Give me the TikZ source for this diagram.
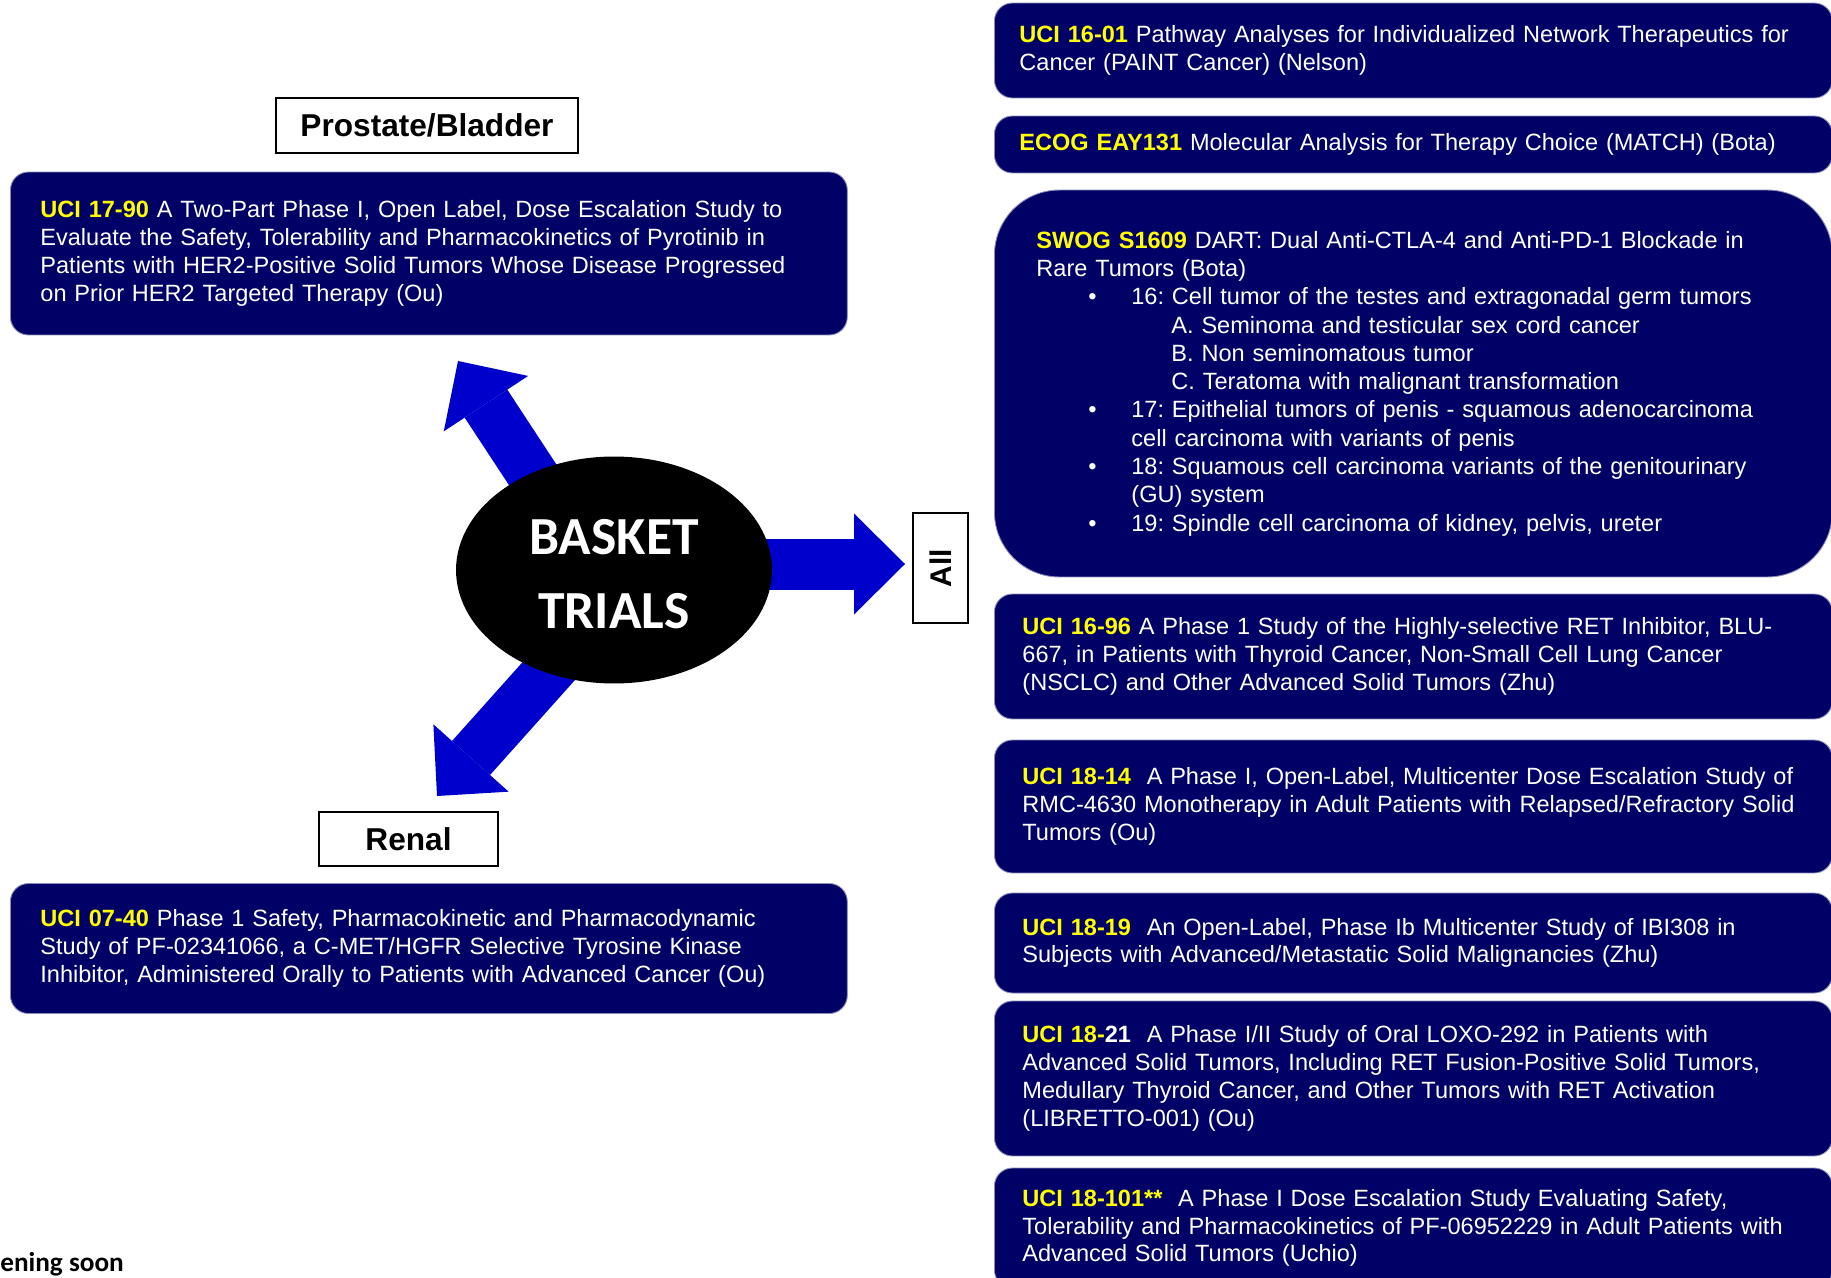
\documentclass[tikz,border=0pt]{standalone}
\usepackage{fontspec}
\setmainfont{Liberation Sans}
\newfontfamily\bannerfont{Carlito}
\usepackage{xcolor}
\usetikzlibrary{arrows.meta,positioning,shapes.geometric,backgrounds}
\definecolor{TrialNavy}{HTML}{000066}
\definecolor{TrialYellow}{HTML}{FFFF00}
\definecolor{ArrowBlue}{HTML}{0000CC}
\tikzset{
  trialbox/.style={fill=TrialNavy, draw=TrialNavy!45!white, line width=0.5pt,
    rounded corners=0.36cm, text=white, align=left, anchor=west,
    font=\fontsize{13.4}{15.8}\selectfont, inner xsep=0.56cm, text width=15.64cm},
  tagbox/.style={draw, line width=1pt, fill=white, inner sep=0pt,
    font=\bfseries\fontsize{18}{21}\selectfont},
  bigarrow/.style={draw=ArrowBlue, line width=1.02cm,
    -{Triangle[length=1.02cm, width=2.02cm, line width=0pt]}}
}
\newcommand{\trialid}[1]{\textcolor{TrialYellow}{\textbf{#1}}}
\newcommand{\tumoritem}[1]{\hspace*{1.04cm}\makebox[0.86cm][l]{\textbullet}#1}
\frenchspacing

\begin{document}
\begin{tikzpicture}[x=0.02cm, y=-0.02cm,
  leftbox/.style={trialbox, inner xsep=0.6cm, text width=15.54cm}
]
\useasboundingbox (0,0) rectangle (1831,1277);
\clip (0,0) rectangle (1831,1277);

% left column
\node[tagbox, minimum width=6.04cm, minimum height=1.1cm] (prostate) at (427,125.5) {Prostate/Bladder};
\node[leftbox, minimum height=3.26cm] (uci1790) at (10,253.5)
  {\trialid{UCI 17-90} A Two-Part Phase I, Open Label, Dose Escalation Study to\\
   Evaluate the Safety, Tolerability and Pharmacokinetics of Pyrotinib in\\
   Patients with HER2-Positive Solid Tumors Whose Disease Progressed\\
   on Prior HER2 Targeted Therapy (Ou)};
\node[tagbox, minimum width=3.58cm, minimum height=1.08cm] (renal) at (408.5,839) {Renal};
\node[leftbox, minimum height=2.6cm] (uci0740) at (10,948.5)
  {\trialid{UCI 07-40} Phase 1 Safety, Pharmacokinetic and Pharmacodynamic\\
   Study of PF-02341066, a C-MET/HGFR Selective Tyrosine Kinase\\
   Inhibitor, Administered Orally to Patients with Advanced Cancer (Ou)};
\node[anchor=base west, inner sep=0pt, font=\bannerfont\bfseries\fontsize{15.5}{19}\selectfont] (soon) at (0,1271) {ening soon};

% hub and arrows
\node[ellipse, fill=black, minimum width=6.32cm, minimum height=4.54cm, inner sep=0pt,
  text=white, align=center, font=\bannerfont\bfseries\fontsize{30.5}{42.5}\selectfont] (basket) at (614,570)
  {\rule{0pt}{24.5pt}BASKET\\TRIALS};
\node[tagbox, rotate=90, minimum width=2.2cm, minimum height=1.1cm,
  font=\bfseries\fontsize{17}{20}\selectfont] (alltag) at (940.5,568) {All};
\coordinate (pbtip) at (458,361);
\coordinate (renaltip) at (437,796);
\coordinate (alltip) at (905,564);
\begin{scope}[on background layer]
\draw[bigarrow] (basket.center) ++(-30,-17) -- (pbtip);
\draw[bigarrow] (basket.center) ++(-24,55) -- (renaltip);
\draw[bigarrow] (basket.center |- alltip) -- (alltip);
\end{scope}

% right column
\node[trialbox, inner xsep=0.5cm, text width=15.76cm, minimum height=1.9cm] (uci1601) at (994,50.5)
  {\trialid{UCI 16-01} Pathway Analyses for Individualized Network Therapeutics for\\
   Cancer (PAINT Cancer) (Nelson)};
\node[trialbox, inner xsep=0.5cm, text width=15.76cm, minimum height=1.14cm] (eay131) at (994,144.5)
  {\trialid{ECOG EAY131} Molecular Analysis for Therapy Choice (MATCH) (Bota)};
\node[trialbox, rounded corners=1.3cm, inner xsep=0.84cm, text width=15.08cm, minimum height=7.74cm,
  font=\fontsize{13.4}{16.1}\selectfont] (s1609) at (994,383.5)
  {\trialid{SWOG S1609} DART: Dual Anti-CTLA-4 and Anti-PD-1 Blockade in\\
   Rare Tumors (Bota)\\
   \tumoritem{16: Cell tumor of the testes and extragonadal germ tumors}\\
   \hspace*{2.7cm}A. Seminoma and testicular sex cord cancer\\
   \hspace*{2.7cm}B. Non seminomatous tumor\\
   \hspace*{2.7cm}C. Teratoma with malignant transformation\\
   \tumoritem{17: Epithelial tumors of penis - squamous adenocarcinoma}\\
   \hspace*{1.9cm}cell carcinoma with variants of penis\\
   \tumoritem{18: Squamous cell carcinoma variants of the genitourinary}\\
   \hspace*{1.9cm}(GU) system\\
   \tumoritem{19: Spindle cell carcinoma of kidney, pelvis, ureter}};
\node[trialbox, minimum height=2.5cm] (uci1696) at (994,656.5)
  {\trialid{UCI 16-96} A Phase 1 Study of the Highly-selective RET Inhibitor, BLU-\\
   667, in Patients with Thyroid Cancer, Non-Small Cell Lung Cancer\\
   (NSCLC) and Other Advanced Solid Tumors (Zhu)};
\node[trialbox, minimum height=2.66cm] (uci1814) at (994,806.5)
  {\trialid{UCI 18-14}\ \ A Phase I, Open-Label, Multicenter Dose Escalation Study of\\
   RMC-4630 Monotherapy in Adult Patients with Relapsed/Refractory Solid\\
   Tumors (Ou)};
\node[trialbox, minimum height=2.0cm] (uci1819) at (994,943)
  {\trialid{UCI 18-19}\ \ An Open-Label, Phase Ib Multicenter Study of IBI308 in\\
   Subjects with Advanced/Metastatic Solid Malignancies (Zhu)};
\node[trialbox, minimum height=3.1cm] (uci1821) at (994,1078.5)
  {\trialid{UCI 18-}\textbf{21}\ \ A Phase I/II Study of Oral LOXO-292 in Patients with\\
   Advanced Solid Tumors, Including RET Fusion-Positive Solid Tumors,\\
   Medullary Thyroid Cancer, and Other Tumors with RET Activation\\
   (LIBRETTO-001) (Ou)};
\node[trialbox, minimum height=2.4cm] (uci18101) at (994,1228)
  {\trialid{UCI 18-101**}\ \ A Phase I Dose Escalation Study Evaluating Safety,\\
   Tolerability and Pharmacokinetics of PF-06952229 in Adult Patients with\\
   Advanced Solid Tumors (Uchio)};
\end{tikzpicture}
\end{document}
